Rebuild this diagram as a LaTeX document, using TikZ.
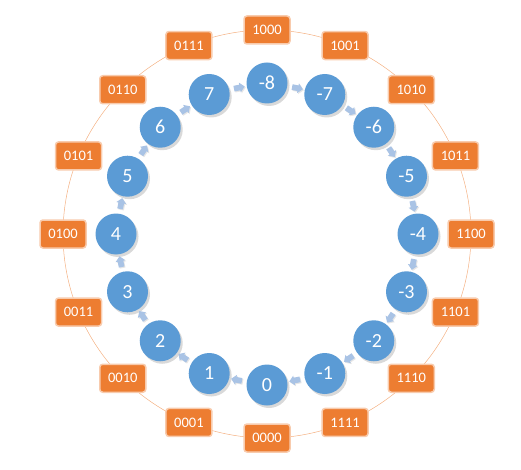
\documentclass[tikz,border=0pt]{standalone}
\usepackage{fontspec}
\setmainfont{Carlito}
\usetikzlibrary{shadows,shapes.arrows}
\definecolor{cblue}{HTML}{5B9BD5}
\definecolor{corange}{HTML}{ED7D31}
\definecolor{cedge}{HTML}{F8CBAD}
\definecolor{cring}{HTML}{F4B183}
\definecolor{carrow}{HTML}{A9C3E5}
\tikzset{
 numnode/.style={circle, fill=cblue, minimum size=41pt, inner sep=0pt, text=white,
   font=\fontsize{20}{20}\selectfont,
   drop shadow={opacity=0.3, shadow xshift=2pt, shadow yshift=-2.5pt}},
 binnode/.style={rectangle, rounded corners=3pt, fill=corange, draw=cedge, line width=1.5pt,
   minimum width=46pt, minimum height=28pt, inner sep=0pt, text=white,
   font=\fontsize{14.5}{14.5}\selectfont},
 stepar/.style={single arrow, fill=carrow, minimum height=11pt, minimum width=10pt,
   single arrow head extend=2pt, inner sep=2.5pt,
   drop shadow={opacity=0.2, shadow xshift=1pt, shadow yshift=-1pt}},
 ring/.style={draw=cring, line width=0.5pt}
}
\begin{document}
\begin{tikzpicture}[x=1pt,y=1pt]
\useasboundingbox (0,0) rectangle (521,469);
\begin{scope}[shift={(267,235)}]
\node[circle, minimum size=408pt, ring, inner sep=0pt] (ringc) at (0,0) {};
\foreach \v/\b [count=\k from 0] in {-8/1000,-7/1001,-6/1010,-5/1011,-4/1100,-3/1101,-2/1110,-1/1111,0/0000,1/0001,2/0010,3/0011,4/0100,5/0101,6/0110,7/0111}{
  \node[numnode] (n\k) at ({90-22.5*\k}:151) {\v};
  \node[binnode] (b\k) at ({90-22.5*\k}:204) {\b};
}
\foreach \k in {0,...,15}{
  \pgfmathsetmacro{\ang}{-22.5*\k-11.25}
  \node[stepar, rotate=\ang] (a\k) at ({90-22.5*\k-11.25}:149) {};
}
\end{scope}
\end{tikzpicture}
\end{document}
